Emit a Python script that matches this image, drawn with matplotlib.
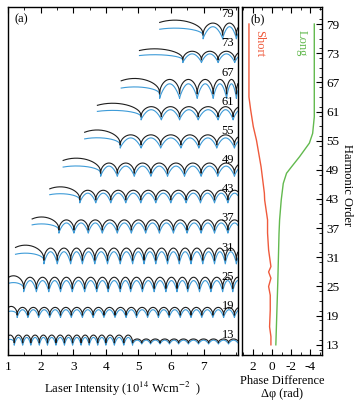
import numpy as np
import matplotlib
matplotlib.use("Agg")
import matplotlib.pyplot as plt
from matplotlib.ticker import MultipleLocator

plt.rcParams['font.family'] = ['Liberation Serif', 'DejaVu Serif']
plt.rcParams['mathtext.fontset'] = 'stix'

# harmonic orders shown in panel (a), with the intensity each trace starts at
orders = [13, 19, 25, 31, 37, 43, 49, 55, 61, 67, 73, 79]
starts = [1.0, 1.0, 1.0, 1.23, 1.74, 2.28, 2.69, 3.35, 3.74, 4.47, 5.03, 5.65]
# level of the fringe minima, of the fringe tops and of the first broad lobe
dip_levels = [13.4, 19.1, 24.6, 30.4, 36.6, 42.8, 48.3, 54.1, 59.9, 64.6, 71.6, 76.7]
top_levels = [15.0, 20.7, 26.9, 32.9, 38.7, 44.8, 50.4, 56.2, 62.0, 67.6, 73.4, 79.2]
first_tops = [15.0, 20.9, 27.2, 33.5, 39.3, 45.5, 51.4, 57.2, 62.7, 67.8, 73.9, 79.8]
# intensities of the interference minima (10^14 W/cm^2)
minima = [
    [1.19, 1.45, 1.70, 1.96, 2.21, 2.47, 2.73, 2.98, 3.24, 3.49, 3.75, 4.00,
     4.26, 4.55, 4.82, 5.10, 5.37, 5.66, 5.95, 6.23, 6.53, 6.84, 7.15, 7.45, 7.76],
    [1.28, 1.61, 1.94, 2.28, 2.61, 2.94, 3.28, 3.61, 3.94, 4.28, 4.62, 4.94,
     5.28, 5.61, 5.94, 6.28, 6.61, 6.94, 7.28, 7.61, 7.94],
    [1.48, 1.87, 2.25, 2.61, 2.97, 3.35, 3.72, 4.07, 4.44, 4.76, 5.12, 5.48,
     5.84, 6.18, 6.51, 6.87, 7.22, 7.58, 7.89],
    [2.10, 2.51, 2.92, 3.28, 3.66, 4.05, 4.44, 4.82, 5.17, 5.53, 5.89, 6.25,
     6.61, 6.97, 7.33, 7.66, 8.00],
    [2.56, 3.02, 3.46, 3.89, 4.35, 4.78, 5.22, 5.64, 6.07, 6.49, 6.92, 7.33, 7.74],
    [3.20, 3.69, 4.15, 4.61, 5.07, 5.53, 5.99, 6.46, 6.90, 7.33, 7.74],
    [3.84, 4.35, 4.87, 5.38, 5.89, 6.41, 6.92, 7.43, 7.94],
    [4.44, 5.08, 5.68, 6.30, 6.85, 7.40, 7.94],
    [5.08, 5.70, 6.26, 6.83, 7.44, 7.90],
    [5.65, 6.26, 6.80, 7.29, 7.70, 8.00],
    [6.36, 6.93, 7.44, 7.95],
    [6.98, 7.58, 8.00],
]
# the 13th harmonic fringes weaken above this intensity
fade_from = {13: (4.6, 0.5)}

# panel (b): phase difference vs harmonic order
short_order = [13, 14.7, 16.7, 20.2, 23.2, 25.0, 26.7, 28.0, 29.1, 32.5, 36.0,
               38.7, 42.8, 44.2, 49.6, 55.1, 57.9, 61.3, 64.0, 79]
short_phase = [0.1, 0.1, 0.24, 0.17, 0.17, 0.34, 0.1, 0.34, 0.1, 0.34, 0.45,
               0.45, 0.75, 0.78, 1.12, 1.6, 1.93, 2.2, 2.38, 2.38]
long_order = [13, 25.7, 35.9, 38.7, 42.8, 46.2, 48.3, 49.6, 51.7, 54.5, 56.5, 59.9, 79]
long_phase = [-0.41, -0.61, -0.74, -0.8, -0.97, -1.18, -1.52, -2.03, -2.87,
              -3.89, -4.23, -4.4, -4.4]

XMAX = 8.05
black = '#1e1e1e'
blue = '#3d9bd8'
red = '#ef5a3c'
green = '#62b94e'


def fringe_trace(start, mins, dip, top, first, fade=None):
    """Join arc-shaped lobes between consecutive minima."""
    xs_k, ys_k, xs_b, ys_b = [], [], [], []
    edges = [start] + list(mins)
    step = mins[-1] - mins[-2] if len(mins) > 1 else 0.5
    edges.append(mins[-1] + step)
    for i in range(len(edges) - 1):
        a, b = edges[i], edges[i + 1]
        amp = top - dip
        if fade and a >= fade[0]:
            amp *= fade[1]
        if i == 0:
            # first lobe: broad, starts part way up
            a0 = a - 0.3 * (b - a)
            t = np.linspace((a - a0) / (b - a0), 1, 60)
            xx = a0 + t * (b - a0)
            s = np.sin(np.pi * t)
            yk = dip + (first - dip) * s ** 0.4
            yb = dip + 0.55 * (first - dip) * s ** 0.35 - 0.1 * amp
        else:
            t = np.linspace(0, 1, 40)
            xx = a + t * (b - a)
            s = np.sin(np.pi * t)
            yk = dip + amp * s ** 0.45
            yb = dip - 0.3 * amp + amp * 1.0 * s ** 0.8
        keep = xx <= XMAX
        xs_k.append(xx[keep]); ys_k.append(yk[keep])
        xs_b.append(xx[keep]); ys_b.append(yb[keep])
    return (np.concatenate(xs_k), np.concatenate(ys_k),
            np.concatenate(xs_b), np.concatenate(ys_b))


fig = plt.figure(figsize=(3.56, 4.01), dpi=100)
ax = fig.add_axes([0.0225, 0.1147, 0.646, 0.8678])
bx = fig.add_axes([0.6798, 0.1147, 0.2247, 0.8678])

for n, st, mn, dp, tp, ft in zip(orders, starts, minima, dip_levels, top_levels, first_tops):
    xk, yk, xb, yb = fringe_trace(st, mn, dp, tp, ft, fade_from.get(n))
    ax.plot(xb, yb, color=blue, lw=0.8)
    ax.plot(xk, yk, color=black, lw=0.8)
    ax.text(7.74, n + 2.0, str(n), ha='center', va='center', fontsize=9)

ax.set_xlim(1, XMAX)
ax.set_ylim(10.9, 82.5)
ax.set_yticks([])
ax.xaxis.set_minor_locator(MultipleLocator(0.5))
ax.set_xticks(range(1, 8))
ax.tick_params(axis='x', which='both', direction='in', top=True, labelsize=9.5, pad=4)
ax.tick_params(axis='x', which='major', length=4)
ax.tick_params(axis='x', which='minor', length=2.5)
ax.set_xlabel('Laser Intensity (10$^{14}$ Wcm$^{-2}$  )', fontsize=9, labelpad=5)
ax.text(0.03, 0.982, '(a)', transform=ax.transAxes, ha='left', va='top', fontsize=9)

bx.plot(short_phase, short_order, color=red, lw=1.0)
bx.plot(long_phase, long_order, color=green, lw=1.0)
bx.text(1.3, 74.9, 'Short', color=red, rotation=270, ha='center', va='center', fontsize=9)
bx.text(-3.05, 75.0, 'Long', color=green, rotation=270, ha='center', va='center', fontsize=9)
bx.text(0.1, 0.982, '(b)', transform=bx.transAxes, ha='left', va='top', fontsize=9)

bx.set_xlim(3.1, -5.2)
bx.set_ylim(10.9, 82.5)
bx.set_xticks([2, 0, -2, -4])
bx.xaxis.set_minor_locator(MultipleLocator(1))
bx.set_yticks(orders)
bx.yaxis.set_minor_locator(MultipleLocator(2))
bx.yaxis.tick_right()
bx.tick_params(axis='both', which='both', direction='in', labelsize=9.5)
bx.tick_params(axis='x', which='both', top=True, pad=4)
bx.tick_params(axis='y', which='both', left=False, right=True, pad=3)
bx.tick_params(which='major', length=4)
bx.tick_params(which='minor', length=2.5)
bx.set_xticklabels(['2', '0', '-2', '-4'])
bx.set_xlabel('Phase Difference\nΔφ (rad)', fontsize=8.8, labelpad=2, linespacing=1.05)
fig.text(347 / 356, 1 - 185 / 401, 'Harmonic Order', rotation=270,
         ha='center', va='center', fontsize=9)

for a in (ax, bx):
    for sp in a.spines.values():
        sp.set_linewidth(1.0)

fig.savefig('out.png', dpi=100)
